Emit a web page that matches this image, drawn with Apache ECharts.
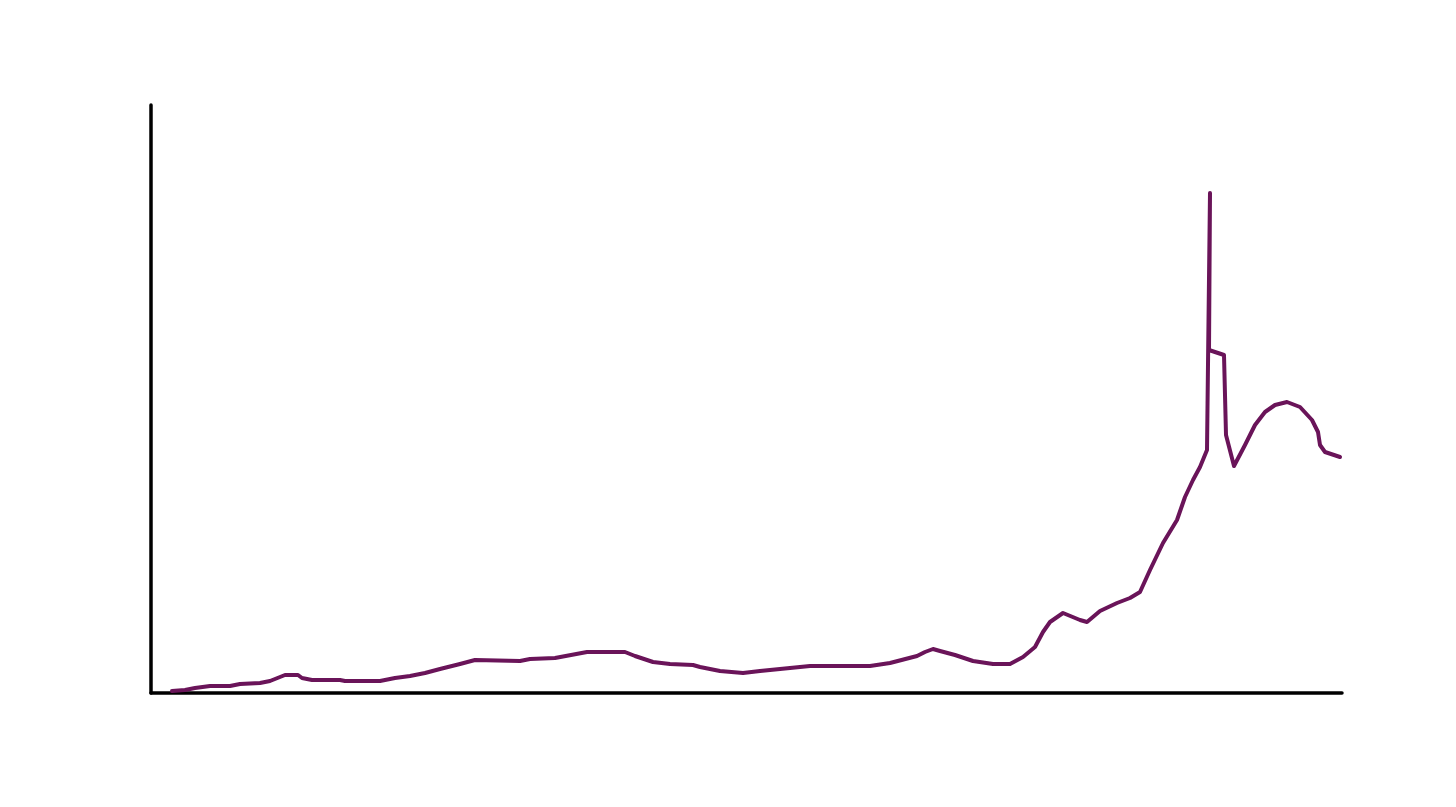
<!DOCTYPE html>
<html>
<head>
<meta charset="utf-8">
<script src="https://cdn.jsdelivr.net/npm/echarts@6/dist/echarts.min.js"></script>
<style>html,body{margin:0;padding:0;background:#fff}#c{width:1456px;height:807px}</style>
</head>
<body>
<div id="c"></div>
<script>
// x positions (arbitrary time units) and values
const xs = [21,34,44,59,79,89,109,119,129,134,147,151,161,189,194,229,244,259,274,289,309,324,369,379,404,436,474,484,502,519,542,549,569,592,609,639,659,719,739,766,774,782,789,804,822,842,859,872,884,892,899,912,929,936,949,966,979,989,999,1012,1026,1034,1042,1049,1056,1059,1058,1073,1075,1083,1094,1104,1114,1124,1136,1149,1161,1167,1169,1174,1189];
const ys = [2,3,5,7,7,9,10,12,16,18,18,15,13,13,12,12,15,17,20,24,29,33,32,34,35,41,41,37,31,29,28,26,22,20,22,25,27,27,30,37,41,44,42,38,32,29,29,36,46,61,71,80,73,71,82,90,95,101,123,150,173,196,213,226,243,500,343,338,258,227,248,268,281,288,291,286,273,261,248,241,236];
const points = xs.map((x, i) => [x, ys[i]]);

const chart = echarts.init(document.getElementById('c'), null, {renderer: 'canvas'});
chart.setOption({
  animation: false,
  backgroundColor: '#ffffff',
  grid: {left: 151, right: 114, top: 105, bottom: 114, containLabel: false},
  xAxis: {
    type: 'value', min: 0, max: 1191,
    axisLine: {show: true, onZero: false, lineStyle: {color: '#000', width: 3.5}},
    axisTick: {show: false}, axisLabel: {show: false}, splitLine: {show: false}
  },
  yAxis: {
    type: 'value', min: 0, max: 588,
    axisLine: {show: true, onZero: false, lineStyle: {color: '#000', width: 3.5}},
    axisTick: {show: false}, axisLabel: {show: false}, splitLine: {show: false}
  },
  series: [{
    type: 'line',
    data: points,
    showSymbol: false,
    smooth: false,
    lineStyle: {color: '#6a1459', width: 4, join: 'round', cap: 'round'},
    itemStyle: {color: '#6a1459'}
  }]
});
</script>
</body>
</html>
